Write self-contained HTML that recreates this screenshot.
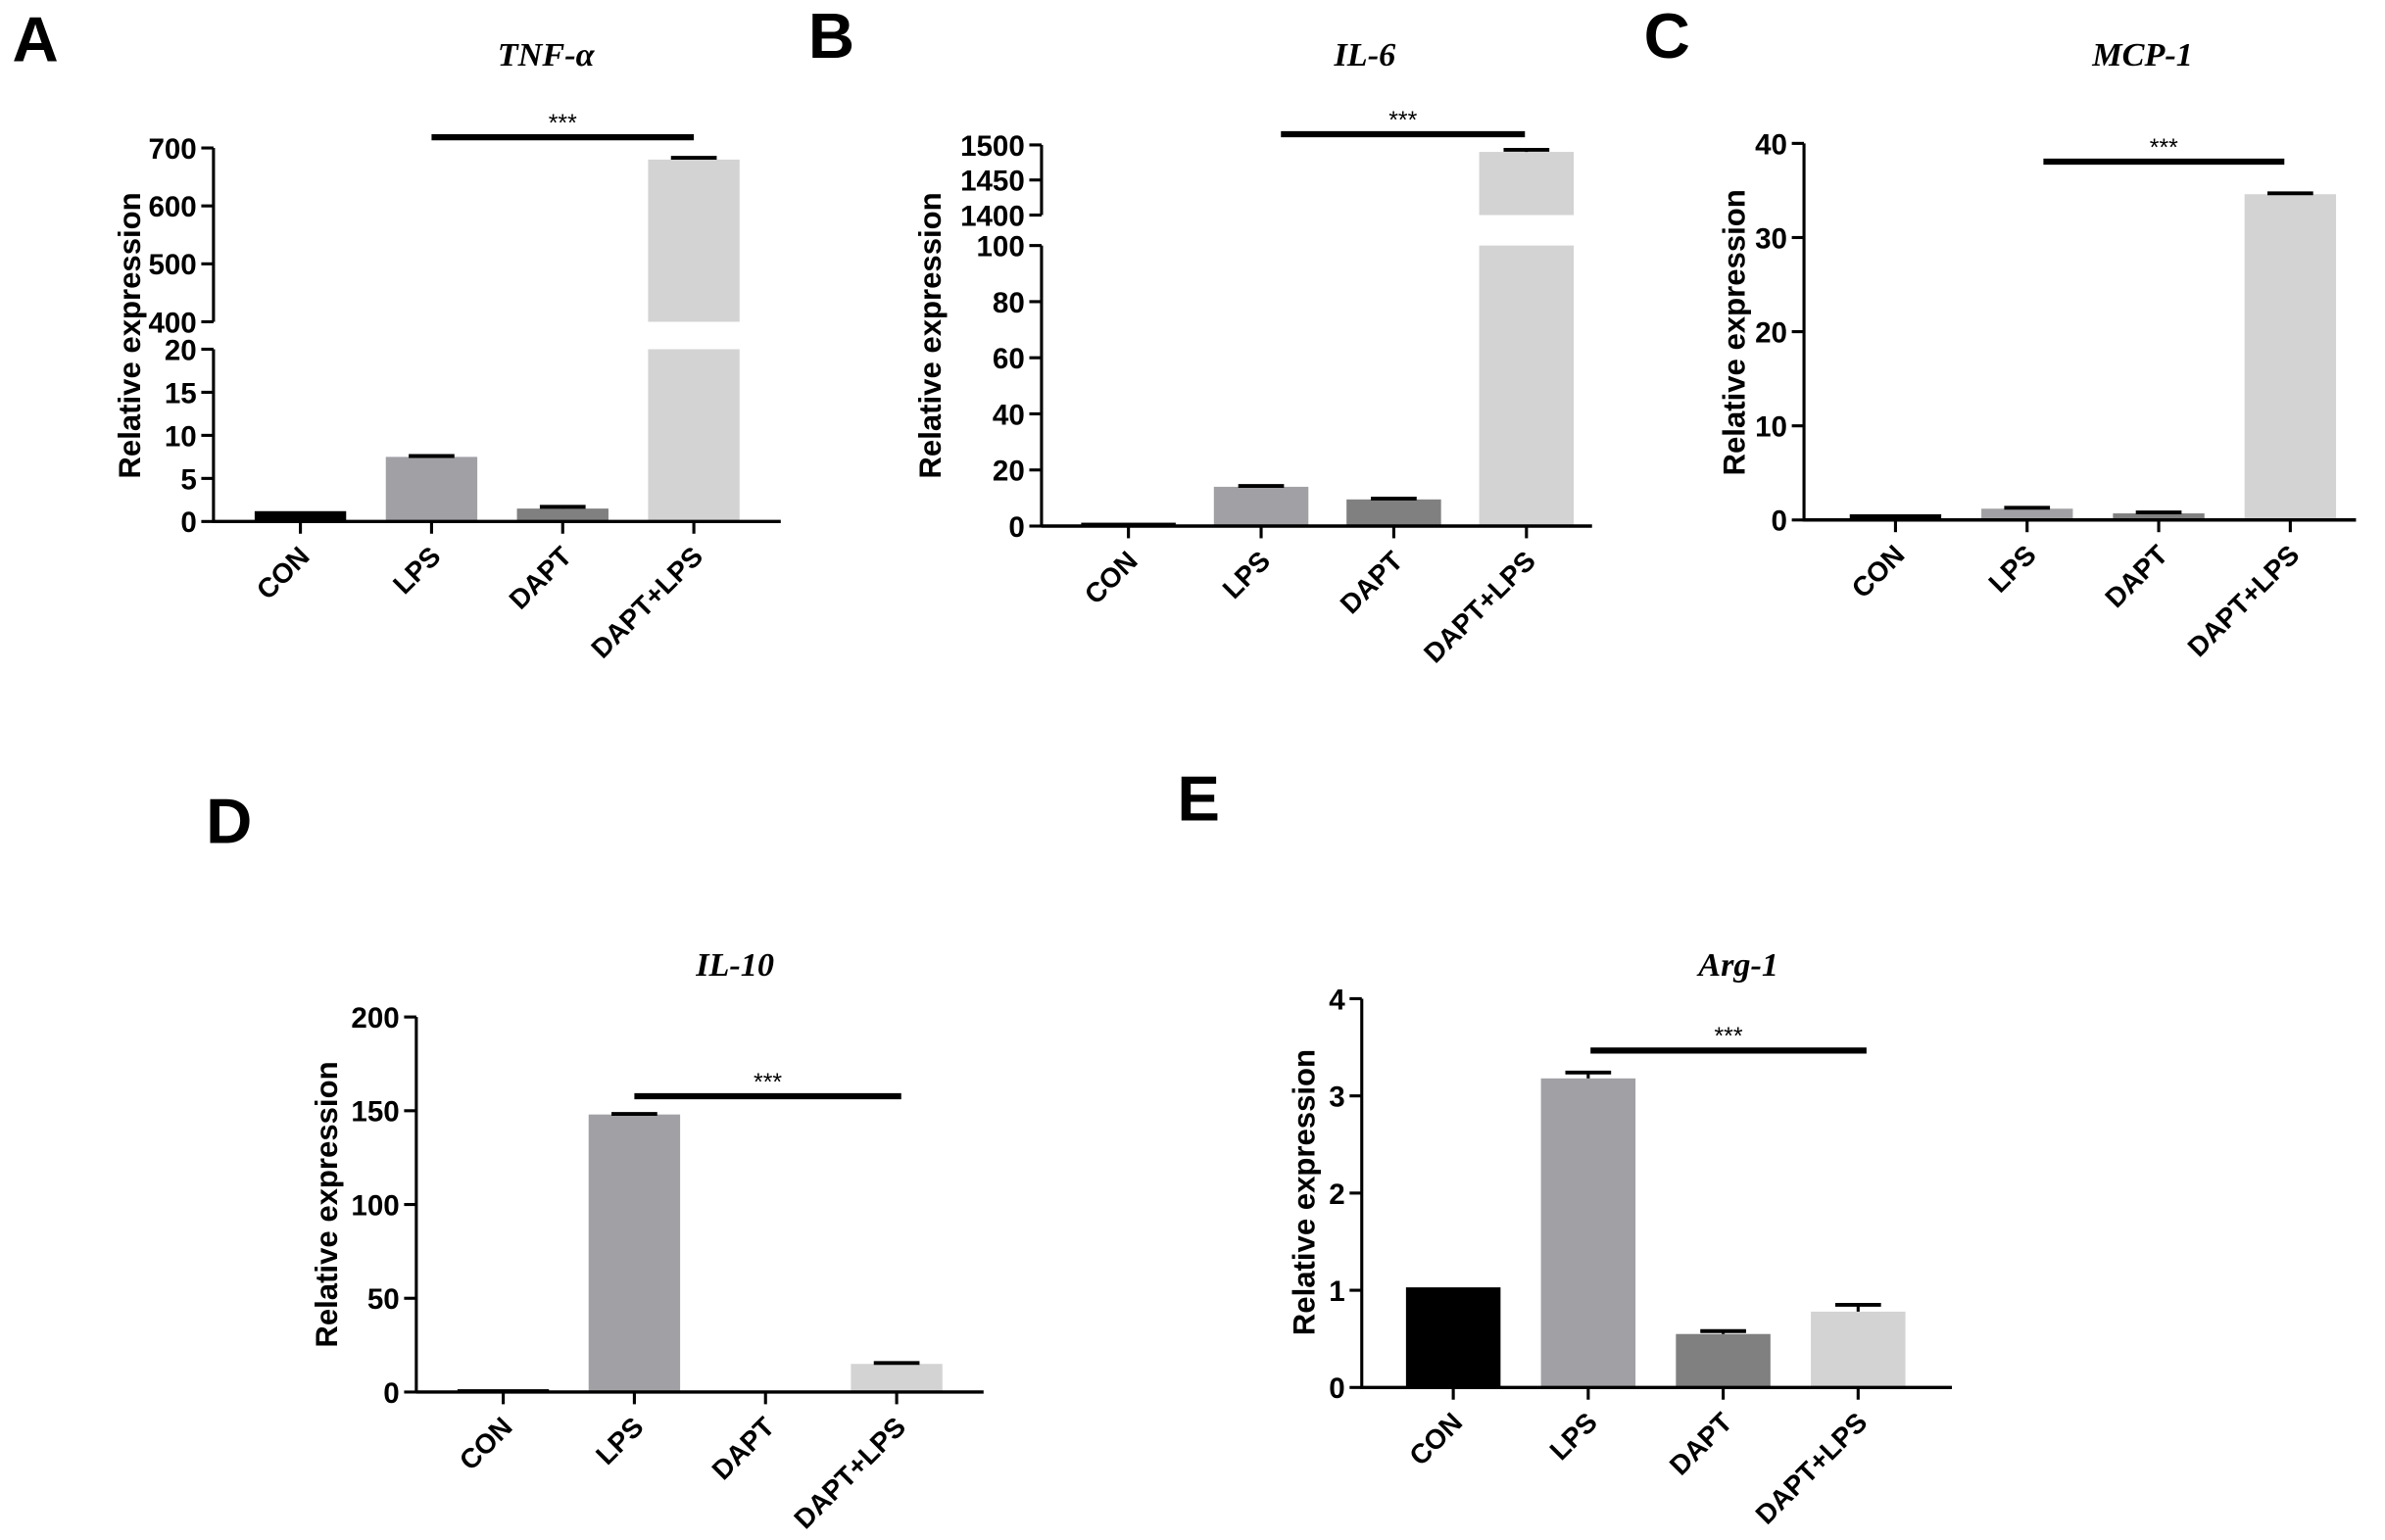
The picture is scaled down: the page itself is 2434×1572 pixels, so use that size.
<!DOCTYPE html>
<html><head><meta charset="utf-8"><style>
html,body{margin:0;padding:0;background:#fff}
svg{display:block}
</style></head><body>
<svg id="fig" width="2434" height="1572" viewBox="0 0 1564 1010" xmlns="http://www.w3.org/2000/svg" font-family="Liberation Sans, sans-serif"></svg>
<script>
const categories = ["CON","LPS","DAPT","DAPT+LPS"];
const colors = ["#000000","#a1a1a5","#808080","#d3d3d3"];
const tnfValues = [1.2, 7.5, 1.5, 680];
const tnfErrors = [0, 0.1, 0.2, 3];
const il6Values = [1.2, 14, 9.5, 1490];
const il6Errors = [0, 0.3, 0.3, 3];
const mcpValues = [0.6, 1.2, 0.7, 34.6];
const mcpErrors = [0, 0.1, 0.1, 0.1];
const il10Values = [1.5, 148, 0.5, 15];
const il10Errors = [0, 0.3, 0, 0.5];
const argValues = [1.03, 3.18, 0.55, 0.78];
const argErrors = [0, 0.06, 0.03, 0.07];
const tnfLowTicks = [0,5,10,15,20], tnfHighTicks = [400,500,600,700];
const il6LowTicks = [0,20,40,60,80,100], il6HighTicks = [1400,1450,1500];
const mcpTicks = [0,10,20,30,40];
const il10Ticks = [0,50,100,150,200];
const argTicks = [0,1,2,3,4];

const svg = document.getElementById('fig');
const NS = 'http://www.w3.org/2000/svg';
function mk(tag, attrs, parent, txt){
  const e = document.createElementNS(NS, tag);
  for (const k in attrs) e.setAttribute(k, attrs[k]);
  if (txt !== undefined) e.textContent = txt;
  (parent||svg).appendChild(e);
  return e;
}

function panel(p){
  const g = mk('g', {});
  
  
  const y = v => {
    if (!p.broken || v <= p.lowMax) return p.y0 - v/p.lowMax*(p.y0 - p.yLowTop);
    const c = Math.max(v, p.upMin);
    return p.yUpBot - (c - p.upMin)/(p.upMax - p.upMin)*(p.yUpBot - p.yUpTop);
  };
  const xc = i => p.c0 + p.sp*i;
  p.values.forEach((v,i)=>{
    const w = p.bw;
    const nm = 'bar-'+categories[i].toLowerCase().replace('+','-');
    if (p.broken && v > p.lowMax){
      const b1 = mk('rect',{x:xc(i)-w/2,y:y(p.lowMax),width:w,height:p.y0-y(p.lowMax),fill:colors[i]},g);
      
      
      const b2 = mk('rect',{x:xc(i)-w/2,y:y(v),width:w,height:p.yUpBot-y(v),fill:colors[i]},g);
      
      
    } else {
      const b = mk('rect',{x:xc(i)-w/2,y:y(v),width:w,height:p.y0-y(v),fill:colors[i]},g);
      
      
    }
    const e = p.errors[i];
    if (e > 0){
      const eg = mk('g',{},g);
      
      
      mk('line',{x1:xc(i),x2:xc(i),y1:y(v),y2:y(v+e),stroke:'#000','stroke-width':2},eg);
      mk('line',{x1:xc(i)-15,x2:xc(i)+15,y1:y(v+e),y2:y(v+e),stroke:'#000','stroke-width':2.5},eg);
    }
  });
  const ax = mk('g',{},g);
  
  
  const drawTicks = ticks => ticks.forEach(t=>{
    mk('line',{x1:p.ax-8,x2:p.ax,y1:y(t),y2:y(t),stroke:'#000','stroke-width':2},ax);
    mk('text',{x:p.ax-11,y:y(t)+7,'text-anchor':'end','font-size':19,'font-weight':'bold'},ax,String(t));
  });
  if (p.broken){
    mk('line',{x1:p.ax,x2:p.ax,y1:p.y0+1,y2:p.yLowTop,stroke:'#000','stroke-width':2},ax);
    mk('line',{x1:p.ax,x2:p.ax,y1:p.yUpBot,y2:p.yUpTop,stroke:'#000','stroke-width':2},ax);
    drawTicks(p.lowTicks); drawTicks(p.highTicks);
  } else {
    mk('line',{x1:p.ax,x2:p.ax,y1:p.y0+1,y2:y(p.ticks[p.ticks.length-1]),stroke:'#000','stroke-width':2},ax);
    drawTicks(p.ticks);
  }
  const xa = mk('g',{},g);
  
  
  mk('line',{x1:p.ax,x2:p.xEnd,y1:p.y0,y2:p.y0,stroke:'#000','stroke-width':2.2},xa);
  categories.forEach((c,i)=>{
    mk('line',{x1:xc(i),x2:xc(i),y1:p.y0,y2:p.y0+8,stroke:'#000','stroke-width':2},xa);
    const t = mk('text',{x:xc(i)+7,y:p.y0+24,'text-anchor':'end','font-size':18,'font-weight':'bold',transform:`rotate(-45 ${xc(i)+7} ${p.y0+24})`},xa,c);
    
    
  });
  const yl = mk('text',{x:0,y:0,'text-anchor':'middle','font-size':20,'font-weight':'bold',transform:`translate(${p.ylx} ${p.yly}) rotate(-90)`},g,'Relative expression');
  
  
  const tt = mk('text',{x:p.tx,y:p.ty,'text-anchor':'middle','font-size':22,'font-weight':'bold','font-style':'italic','font-family':'Liberation Serif, serif'},g,p.title);
  
  
  const sg = mk('g',{},g);
  
  
  mk('line',{x1:p.s1,x2:p.s2,y1:p.sy,y2:p.sy,stroke:'#000','stroke-width':4},sg);
  mk('text',{x:(p.s1+p.s2)/2,y:p.sy-4,'text-anchor':'middle','font-size':16},sg,'***');
  const L = mk('text',{x:p.lx,y:p.ly,'font-size':42,'font-weight':'bold'},g,p.letter);
  
  
}

panel({name:'panel-a-tnf',letter:'A',lx:8,ly:40,title:'TNF-α',tx:358,ty:43,values:tnfValues,errors:tnfErrors,
  broken:true,lowMax:20,upMin:400,upMax:700,y0:342,yLowTop:229,yUpBot:211,yUpTop:97,lowTicks:tnfLowTicks,highTicks:tnfHighTicks,
  ax:140,xEnd:512,c0:197,sp:86,bw:60,ylx:92,yly:220,s1:283,s2:455,sy:90});
panel({name:'panel-b-il6',letter:'B',lx:530,ly:38,title:'IL-6',tx:895,ty:43,values:il6Values,errors:il6Errors,
  broken:true,lowMax:100,upMin:1400,upMax:1500,y0:345,yLowTop:161,yUpBot:141,yUpTop:95,lowTicks:il6LowTicks,highTicks:il6HighTicks,
  ax:683,xEnd:1044,c0:740,sp:87,bw:62,ylx:617,yly:220,s1:840,s2:1000,sy:88});
panel({name:'panel-c-mcp1',letter:'C',lx:1078,ly:38,title:'MCP-1',tx:1405,ty:43,values:mcpValues,errors:mcpErrors,
  broken:false,lowMax:40,y0:341,yLowTop:94,ticks:mcpTicks,
  ax:1183,xEnd:1545,c0:1243,sp:86.3,bw:60,ylx:1144,yly:218,s1:1340,s2:1498,sy:106});
panel({name:'panel-d-il10',letter:'D',lx:135,ly:553,title:'IL-10',tx:482,ty:640,values:il10Values,errors:il10Errors,
  broken:false,lowMax:200,y0:913,yLowTop:667,ticks:il10Ticks,
  ax:273,xEnd:645,c0:330,sp:86,bw:60,ylx:221,yly:790,s1:416,s2:591,sy:719});
panel({name:'panel-e-arg1',letter:'E',lx:772,ly:538,title:'Arg-1',tx:1140,ty:640,values:argValues,errors:argErrors,
  broken:false,lowMax:4,y0:910,yLowTop:655,ticks:argTicks,
  ax:893,xEnd:1280,c0:953,sp:88.5,bw:62,ylx:862,yly:782,s1:1043,s2:1224,sy:689});
</script>
</body></html>
